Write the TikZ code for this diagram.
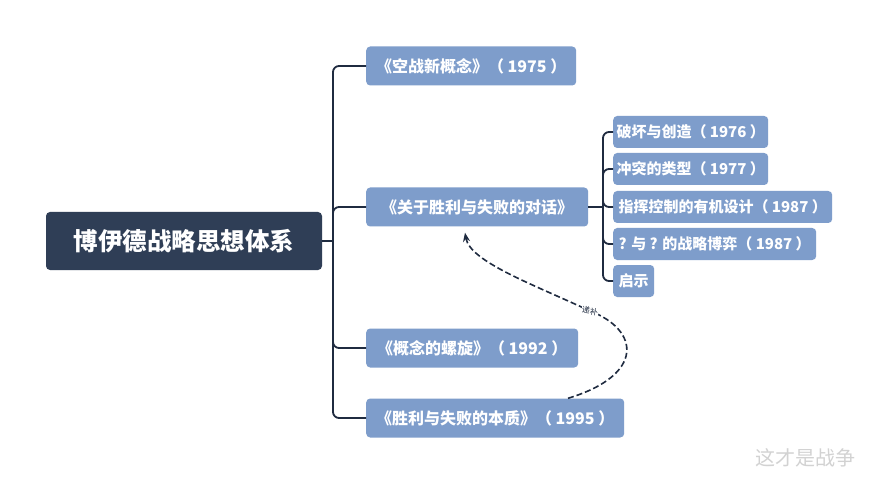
\documentclass[tikz,border=0pt]{standalone}
\usepackage{fontspec}
\setmainfont{Noto Sans CJK SC}
\usetikzlibrary{arrows.meta}
\definecolor{rootcol}{HTML}{2F3E56}
\definecolor{boxcol}{HTML}{7E9DCB}
\definecolor{linecol}{HTML}{1F2B40}
\tikzset{
  rootbox/.style={rectangle, rounded corners=4pt, fill=rootcol, text=white,
    font=\bfseries\fontsize{24.5}{24.5}\selectfont, minimum width=276pt, minimum height=58pt, inner sep=0pt},
  l1box/.style={rectangle, rounded corners=4pt, fill=boxcol, text=white,
    font=\bfseries\fontsize{16}{16}\selectfont, minimum height=39pt, inner sep=0pt, anchor=west},
  subbox/.style={rectangle, rounded corners=4pt, fill=boxcol, text=white,
    font=\bfseries\fontsize{15}{15}\selectfont, minimum height=32pt, inner sep=0pt, anchor=west},
  conn/.style={draw=linecol, line width=1.8pt, rounded corners=6pt},
  backlink/.style={draw=linecol, line width=1.6pt, dash pattern=on 6pt off 3pt, -{Stealth[length=9pt,width=7pt]}},
}
\begin{document}
\begin{tikzpicture}[x=1pt,y=-1pt]
\fill[white] (0,0) rectangle (880,486);
\useasboundingbox (0,0) rectangle (880,486);

\node[rootbox] (root) at (184,241) {博伊德战略思想体系};

\node[l1box, minimum width=210pt] (n1) at (366,66) {《空战新概念》（ 1975 ）};
\node[l1box, minimum width=222pt] (n2) at (366,207) {《关于胜利与失败的对话》};
\node[l1box, minimum width=212pt] (n3) at (366,348) {《概念的螺旋》（ 1992 ）};
\node[l1box, minimum width=258pt] (n4) at (366,418) {《胜利与失败的本质》（ 1995 ）};

\node[subbox, minimum width=155pt] (s1) at (613,132) {破坏与创造（ 1976 ）};
\node[subbox, minimum width=155pt] (s2) at (613,169) {冲突的类型（ 1977 ）};
\node[subbox, minimum width=219pt] (s3) at (613,207) {指挥控制的有机设计（ 1987 ）};
\node[subbox, minimum width=203pt] (s4) at (613,244) {? 与 ? 的战略博弈（ 1987 ）};
\node[subbox, minimum width=41pt] (s5) at (613,281) {启示};

\coordinate (t) at (333,241);
\draw[conn] (root.east) -- (t);
\draw[conn] (t) |- (n1.west);
\draw[conn] (t) |- (n2.west);
\draw[conn] (t) |- (n3.west);
\draw[conn] (t) |- (n4.west);

\coordinate (u) at (603,207);
\draw[conn] (n2.east) -- (u);
\draw[conn] (u) |- (s1.west);
\draw[conn] (u) |- (s2.west);
\draw[conn] (u) |- (s3.west);
\draw[conn] (u) |- (s4.west);
\draw[conn] (u) |- (s5.west);

\coordinate (cs) at ([xshift=202pt]n4.north west);
\coordinate (ce) at ([xshift=99pt,yshift=-6pt]n2.south west);
\coordinate (cm) at (590,311);
\draw[backlink] (cs) .. controls (645,375) and (640,330) .. (cm) .. controls (535,285) and (470,262) .. (ce);
\node[font=\fontsize{8}{8}\selectfont, text=linecol, fill=white, inner sep=0.5pt, rotate=-8] (lbl) at (cm) {递补};

\node[font=\fontsize{20}{20}\selectfont, text=gray!35] (wm) at (805,458) {这才是战争};
\end{tikzpicture}
\end{document}
